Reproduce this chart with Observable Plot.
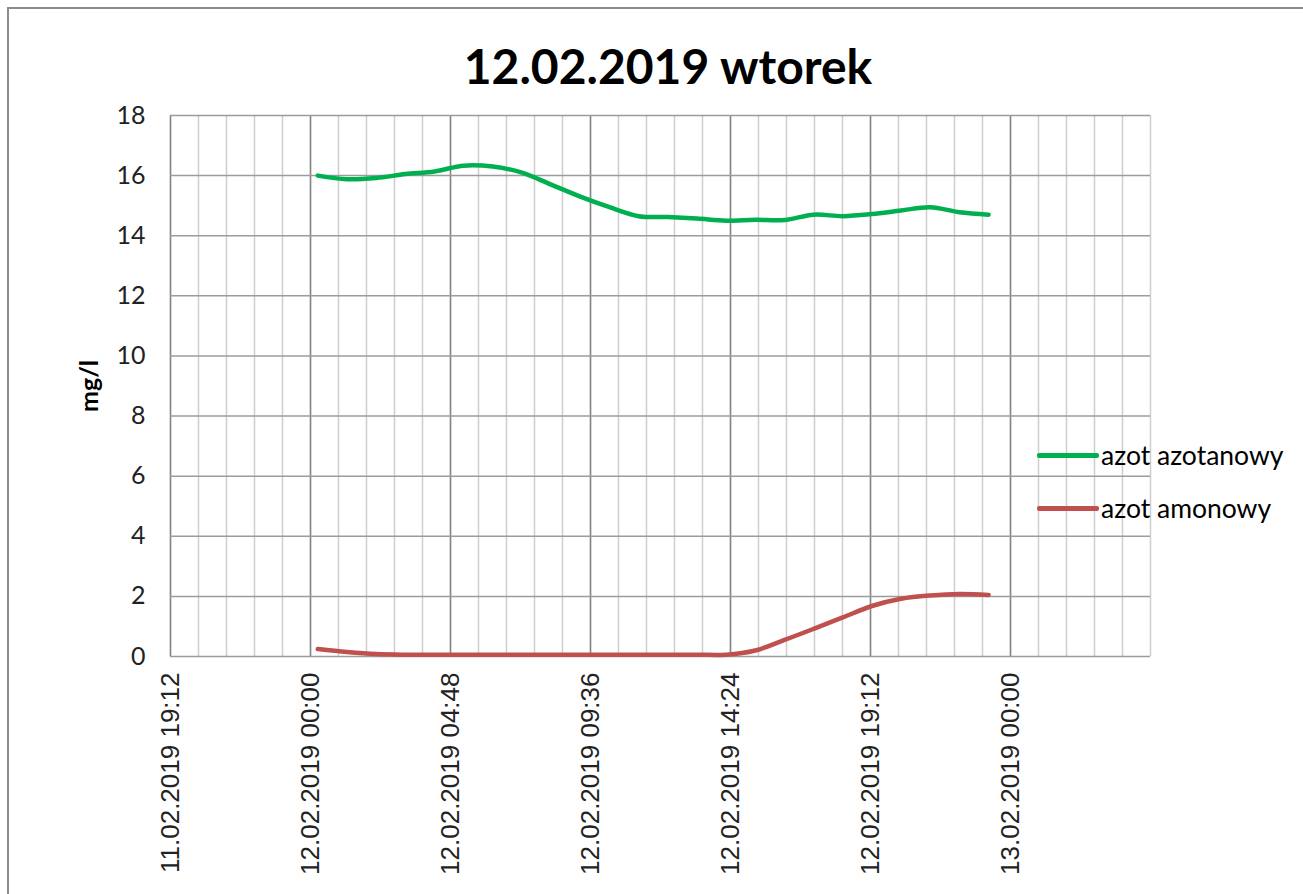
<!DOCTYPE html>
<html>
<head>
<meta charset="utf-8">
<script src="https://cdn.jsdelivr.net/npm/d3@7"></script>
<script src="https://cdn.jsdelivr.net/npm/@observablehq/plot@0.6"></script>
<style>
  html, body { margin: 0; padding: 0; background: #fff; overflow: hidden; }
  #wrap { position: relative; width: 1303px; height: 894px; overflow: hidden; background: #fff; }
  #frame { position: absolute; left: 7px; top: 7px; width: 1400px; height: 1000px;
           border-left: 2px solid #8c8c8c; border-top: 2px solid #8c8c8c; box-sizing: border-box; }
  #title { position: absolute; top: 42px; left: 668px; transform: translateX(-50%);
           font-family: Lato, sans-serif; font-weight: 700; font-size: 48px; line-height: 1; color: #000; white-space: nowrap; }
  #ylabel { position: absolute; left: 88px; top: 386px; transform: translate(-50%, -50%) rotate(-90deg);
            font-family: Lato, sans-serif; font-weight: 700; font-size: 25px; line-height: 1; color: #000; white-space: nowrap; }
  .leg { position: absolute; left: 1037px; height: 28px; display: flex; align-items: center; white-space: nowrap; }
  .leg .sw { width: 62px; height: 5px; border-radius: 2px; }
  .leg .tx { margin-left: 2px; font-family: Lato, sans-serif; font-size: 26.5px; color: #000; }
  #plot { position: absolute; left: 0; top: 0; }
</style>
</head>
<body>
<div id="wrap">
  <div id="frame"></div>
  <div id="plot"></div>
  <div id="title"></div>
  <div id="ylabel"></div>
  <div id="legend"></div>
</div>
<script>
// ---- data ----
const chartTitle = "12.02.2019 wtorek";
const yLabel = "mg/l";
const seriesNames = ["azot azotanowy", "azot amonowy"];
const seriesColors = ["#00B050", "#C0504D"];

const times = [
  "12.02.2019 00:15","12.02.2019 01:15","12.02.2019 02:15","12.02.2019 03:15",
  "12.02.2019 04:15","12.02.2019 05:15","12.02.2019 06:15","12.02.2019 07:15",
  "12.02.2019 08:15","12.02.2019 09:15","12.02.2019 10:15","12.02.2019 11:15",
  "12.02.2019 12:15","12.02.2019 13:15","12.02.2019 14:15","12.02.2019 15:15",
  "12.02.2019 16:15","12.02.2019 17:15","12.02.2019 18:15","12.02.2019 19:15",
  "12.02.2019 20:15","12.02.2019 21:15","12.02.2019 22:15","12.02.2019 23:15"
];
const azotAzotanowy = [
  16.00, 15.88, 15.92, 16.05, 16.14, 16.33, 16.30, 16.10,
  15.70, 15.30, 14.95, 14.65, 14.62, 14.57, 14.50, 14.53,
  14.52, 14.70, 14.65, 14.72, 14.84, 14.95, 14.78, 14.70
];
const azotAmonowy = [
  0.25, 0.15, 0.08, 0.06, 0.06, 0.06, 0.06, 0.06,
  0.06, 0.06, 0.06, 0.06, 0.06, 0.06, 0.06, 0.20,
  0.55, 0.92, 1.30, 1.68, 1.92, 2.03, 2.08, 2.05
];
const xTickLabels = [
  "11.02.2019 19:12","12.02.2019 00:00","12.02.2019 04:48","12.02.2019 09:36",
  "12.02.2019 14:24","12.02.2019 19:12","13.02.2019 00:00"
];
const xDomainLabels = ["11.02.2019 19:12", "13.02.2019 04:48"];
const yTicks = [0, 2, 4, 6, 8, 10, 12, 14, 16, 18];

// ---- build ----
const parse = d3.timeParse("%d.%m.%Y %H:%M");
const fmt = d3.timeFormat("%d.%m.%Y %H:%M");
const xDomain = xDomainLabels.map(parse);
const majorTicks = xTickLabels.map(parse);
const minorStep = 57.6 * 60 * 1000; // 1/5 of a major step
const minorTicks = [];
for (let t = +xDomain[0]; t <= +xDomain[1] + 1; t += minorStep) minorTicks.push(new Date(t));

const rows = [];
times.forEach((t, i) => {
  rows.push({time: parse(t), value: azotAzotanowy[i], series: seriesNames[0]});
});
times.forEach((t, i) => {
  rows.push({time: parse(t), value: azotAmonowy[i], series: seriesNames[1]});
});

const chart = Plot.plot({
  width: 1303,
  height: 894,
  marginLeft: 170,
  marginRight: 153,
  marginTop: 115,
  marginBottom: 238,
  style: {background: "transparent"},
  x: {type: "time", domain: xDomain},
  y: {domain: [0, 18]},
  color: {domain: seriesNames, range: seriesColors},
  marks: [
    Plot.ruleX(minorTicks, {stroke: "#cdcdcd", strokeWidth: 1.5}),
    Plot.ruleX(majorTicks, {stroke: "#858585", strokeWidth: 1.5}),
    Plot.ruleY(yTicks, {stroke: "#9c9c9c", strokeWidth: 1.5}),
    Plot.line(rows.filter(d => d.series === seriesNames[0]), {x: "time", y: "value", stroke: seriesColors[0], strokeWidth: 4.5, curve: "catmull-rom"}),
    Plot.line(rows.filter(d => d.series === seriesNames[1]), {x: "time", y: "value", stroke: seriesColors[1], strokeWidth: 4.5, curve: "catmull-rom"}),
    Plot.axisY({ticks: yTicks, tickSize: 0, tickPadding: 25, label: null,
                fontSize: 25, fontFamily: "Lato, sans-serif", fill: "#222"}),
    Plot.axisX({ticks: majorTicks, tickFormat: fmt, tickRotate: -90, tickSize: 0, tickPadding: 16, label: null,
                fontSize: 26, fontFamily: "'Liberation Sans', Arial, sans-serif", fill: "#222"})
  ]
});
document.getElementById("plot").appendChild(chart);
document.getElementById("title").textContent = chartTitle;
document.getElementById("ylabel").textContent = yLabel;

const legend = document.getElementById("legend");
const legendTops = [441, 494];
seriesNames.forEach((name, i) => {
  const el = document.createElement("div");
  el.className = "leg";
  el.style.top = legendTops[i] + "px";
  el.innerHTML = `<div class="sw" style="background:${seriesColors[i]}"></div><div class="tx">${name}</div>`;
  legend.appendChild(el);
});
</script>
</body>
</html>
